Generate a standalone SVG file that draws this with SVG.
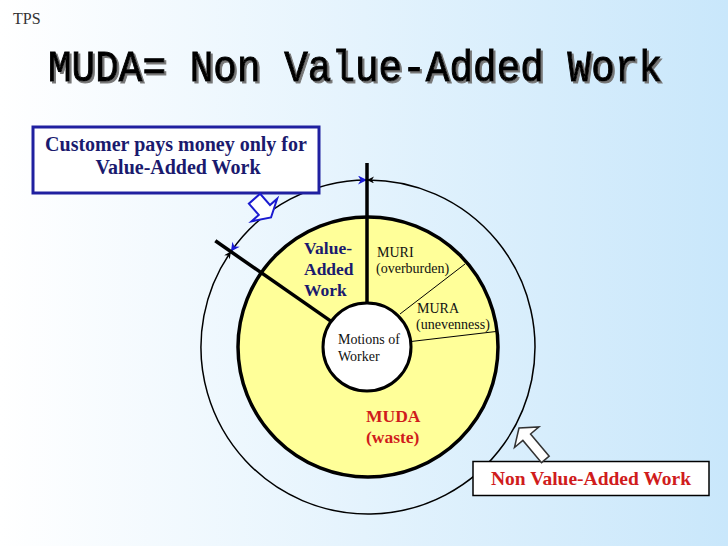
<svg xmlns="http://www.w3.org/2000/svg" width="728" height="546" viewBox="0 0 728 546">
<defs>
  <linearGradient id="bg" x1="0" y1="0" x2="1" y2="0">
    <stop offset="0" stop-color="#ffffff"/>
    <stop offset="1" stop-color="#c9e7fb"/>
  </linearGradient>
  <filter id="shadow" filterUnits="userSpaceOnUse" x="30" y="30" width="660" height="70">
    <feDropShadow dx="2" dy="2" stdDeviation="0.6" flood-color="#777777" flood-opacity="1"/>
  </filter>
  <marker id="blueHead" viewBox="0 0 10 10" refX="10" refY="5" markerWidth="11" markerHeight="9" markerUnits="userSpaceOnUse" orient="auto-start-reverse">
    <path d="M0,0 L10,5 L0,10 L3,5 Z" fill="#1a1ad6"/>
  </marker>
  <marker id="blackHead" viewBox="0 0 10 10" refX="10" refY="5" markerWidth="8" markerHeight="7" markerUnits="userSpaceOnUse" orient="auto-start-reverse">
    <path d="M0,0 L10,5 L0,10 L3,5 Z" fill="#000"/>
  </marker>
  <style>
    .serif { font-family: "Liberation Serif", "Times New Roman", serif; }
    .navy { fill: #1a1a6e; font-weight: bold; }
    .red { fill: #d01c1c; font-weight: bold; }
    .small { font-size: 14px; fill: #111; }
    .thick { stroke: #000; stroke-width: 3.5; fill: none; }
    .thin { stroke: #000; stroke-width: 1; fill: none; }
    .ring { stroke: #000; stroke-width: 1.5; fill: none; }
  </style>
</defs>

<rect x="0" y="0" width="728" height="546" fill="url(#bg)"/>

<g id="tps">
  <text x="13" y="24" class="serif" font-size="16" fill="#333">TPS</text>
</g>

<g id="title" font-family="'Liberation Mono', 'Courier New', monospace" font-size="44" filter="url(#shadow)">
  <text x="48" y="81" fill="#000" stroke="#000" stroke-width="1" textLength="614" lengthAdjust="spacingAndGlyphs">MUDA= Non Value-Added Work</text>
</g>

<g id="connectors">
  <path class="ring" d="M367,180 A167,167 0 0 0 230.9,251.6" marker-start="url(#blueHead)" marker-end="url(#blueHead)"/>
  <path class="ring" d="M230.9,251.6 A167,167 0 1 0 367,180" marker-start="url(#blackHead)" marker-end="url(#blackHead)"/>
</g>

<g id="muda-disk">
  <circle cx="368" cy="347" r="130" fill="#ffff99" stroke="#000" stroke-width="3.5"/>
</g>

<g id="dividers">
  <line class="thick" x1="367" y1="163" x2="367" y2="303"/>
  <line class="thick" x1="215.3" y1="240.8" x2="331.9" y2="321.9"/>
  <line class="thin" x1="400" y1="314" x2="465" y2="264"/>
  <line class="thin" x1="411" y1="341.5" x2="496" y2="331.5"/>
</g>

<g id="motions">
  <circle cx="367" cy="347" r="44" fill="#ffffff" stroke="#000" stroke-width="3"/>
  <text class="serif small" x="338" y="344">Motions of</text>
  <text class="serif small" x="338" y="361">Worker</text>
</g>

<g id="value-added-label" class="serif navy" font-size="17.5">
  <text x="304" y="254">Value-</text>
  <text x="304" y="275">Added</text>
  <text x="304" y="296">Work</text>
</g>

<g id="muri">
  <text class="serif small" x="377" y="257">MURI</text>
  <text class="serif small" x="376" y="273">(overburden)</text>
</g>

<g id="mura">
  <text class="serif small" x="417" y="313">MURA</text>
  <text class="serif small" x="416" y="329">(unevenness)</text>
</g>

<g id="muda-label" class="serif red" font-size="17.5">
  <text x="366" y="422">MUDA</text>
  <text x="366" y="443">(waste)</text>
</g>

<g id="customer-box">
  <rect x="33" y="127" width="286" height="66" fill="#ffffff" stroke="#2020a0" stroke-width="3"/>
  <text class="serif navy" font-size="20" x="176" y="151" text-anchor="middle">Customer pays money only for</text>
  <text class="serif navy" font-size="20" x="178" y="174" text-anchor="middle">Value-Added Work</text>
</g>

<g id="customer-arrow">
  <polygon transform="translate(271,217.5) rotate(48.7)" points="0,0 -10,-17 -10,-7.5 -25,-7.5 -25,7.5 -10,7.5 -10,17" fill="#ffffff" stroke="#1a1ad0" stroke-width="2"/>
</g>

<g id="nva-box">
  <rect x="473" y="461.5" width="236" height="34" fill="#ffffff" stroke="#000" stroke-width="1.5"/>
  <text class="serif red" font-size="19.5" x="591" y="485" text-anchor="middle">Non Value-Added Work</text>
</g>

<g id="nva-arrow">
  <polygon transform="translate(519,428) rotate(-130)" points="0,0 -12,-16 -12,-5 -41,-5 -41,5 -12,5 -12,16" fill="#ffffff" stroke="#333" stroke-width="1.5"/>
</g>
</svg>
